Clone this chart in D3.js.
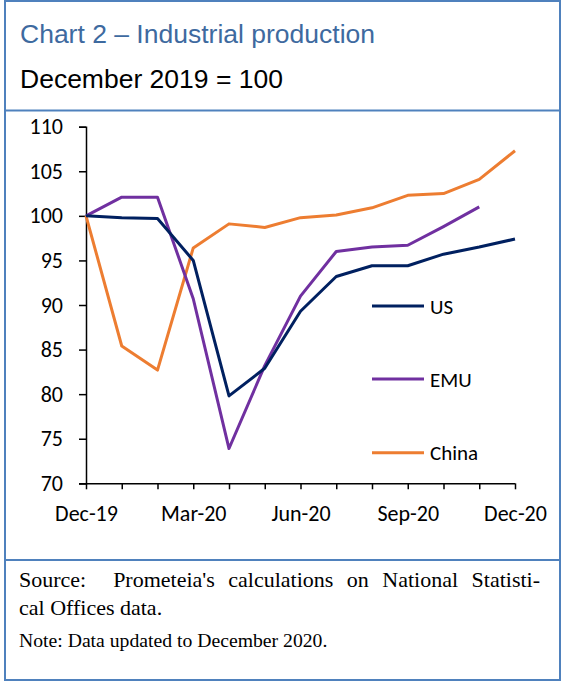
<!DOCTYPE html>
<html>
<head>
<meta charset="utf-8">
<script src="https://cdn.jsdelivr.net/npm/d3@7"></script>
<style>
body { margin: 0; background: #fff; }
svg { display: block; }
</style>
</head>
<body>
<div id="chart"></div>
<script>
var months = ['Dec-19', 'Jan-20', 'Feb-20', 'Mar-20', 'Apr-20', 'May-20', 'Jun-20',
	'Jul-20', 'Aug-20', 'Sep-20', 'Oct-20', 'Nov-20', 'Dec-20'];
var tickLabels = ['Dec-19', 'Mar-20', 'Jun-20', 'Sep-20', 'Dec-20'];
var yTicks = [70, 75, 80, 85, 90, 95, 100, 105, 110];

var usValues = [100, 99.8, 99.7, 95.0, 79.8, 82.9, 89.3, 93.2, 94.4, 94.4, 95.7, 96.5, 97.4];
var emuValues = [100, 102.1, 102.1, 90.7, 73.9, 83.2, 91.0, 96.0, 96.5, 96.7, 98.8, 101.0];
var chinaValues = [100, 85.4, 82.7, 96.4, 99.1, 98.7, 99.8, 100.1, 100.9, 102.3, 102.5, 104.1, 107.3];

var series = [
	{ name: 'US', values: usValues, color: '#002060' },
	{ name: 'EMU', values: emuValues, color: '#7030a0' },
	{ name: 'China', values: chinaValues, color: '#ed7d31' }
];

var W = 562, H = 682;
var svg = d3.select('#chart').append('svg').attr('width', W).attr('height', H);

// frame
var frame = '#4f81bd';
svg.append('rect').attr('x', 5).attr('y', 1).attr('width', 555).attr('height', 679)
	.attr('fill', 'none').attr('stroke', frame).attr('stroke-width', 2);
svg.append('line').attr('x1', 5).attr('x2', 560).attr('y1', 110.5).attr('y2', 110.5)
	.attr('stroke', frame).attr('stroke-width', 2);
svg.append('line').attr('x1', 5).attr('x2', 560).attr('y1', 560).attr('y2', 560)
	.attr('stroke', frame).attr('stroke-width', 2);

// header
svg.append('text').attr('x', 20).attr('y', 42.7)
	.style('font-family', 'Liberation Sans, Arial, sans-serif').style('font-size', '26.5px')
	.attr('fill', '#3e6a9f').text('Chart 2 \u2013 Industrial production');
svg.append('text').attr('x', 20).attr('y', 87.5)
	.style('font-family', 'Liberation Sans, Arial, sans-serif').style('font-size', '26.5px')
	.attr('fill', '#000').text('December 2019 = 100');

// plot
var x = d3.scalePoint().domain(months).range([86, 515]);
var y = d3.scaleLinear().domain([70, 110]).range([483.3, 126.7]);

var axisFont = 'Carlito, Lato, sans-serif';

var yAxis = svg.append('g').attr('transform', 'translate(86,0)')
	.call(d3.axisLeft(y).tickValues(yTicks).tickSize(7).tickPadding(16));
yAxis.select('.domain').attr('stroke', '#000').attr('stroke-width', 1.5);
yAxis.selectAll('.tick line').attr('stroke', '#000').attr('stroke-width', 1.5);
yAxis.selectAll('.tick text').style('font-family', axisFont).style('font-size', '22px').attr('fill', '#000');

var xAxis = svg.append('g').attr('transform', 'translate(0,483.3)')
	.call(d3.axisBottom(x).tickSize(6).tickSizeOuter(0).tickPadding(16)
		.tickFormat(function(d) { return tickLabels.indexOf(d) >= 0 ? d : ''; }));
xAxis.select('.domain').attr('stroke', '#000').attr('stroke-width', 1.5)
	.attr('d', 'M79,0.5H515');
xAxis.selectAll('.tick line').attr('stroke', '#000').attr('stroke-width', 1.5);
xAxis.selectAll('.tick text').style('font-family', axisFont).style('font-size', '22px').attr('fill', '#000');

var line = d3.line()
	.x(function(d, i) { return x(months[i]); })
	.y(function(d) { return y(d); });

// draw China first, then EMU, then US on top
[series[2], series[1], series[0]].forEach(function(s) {
	svg.append('path').datum(s.values)
		.attr('d', line)
		.attr('fill', 'none')
		.attr('stroke', s.color)
		.attr('stroke-width', 3)
		.attr('stroke-linejoin', 'round');
});

// legend
var legendY = [306, 379, 452.7];
series.forEach(function(s, i) {
	svg.append('line').attr('x1', 372).attr('x2', 424)
		.attr('y1', legendY[i]).attr('y2', legendY[i])
		.attr('stroke', s.color).attr('stroke-width', 3);
	svg.append('text').attr('x', 430).attr('y', legendY[i] + 7.5)
		.style('font-family', axisFont).style('font-size', '21px')
		.attr('fill', '#000').text(s.name);
});

// source (first line justified to the box width)
var serif = 'Liberation Serif, Times New Roman, serif';
var src = svg.append('text').attr('x', 19).attr('y', 586.7)
	.style('font-family', serif).style('font-size', '22px')
	.attr('fill', '#000').attr('xml:space', 'preserve')
	.text('Source:  Prometeia\'s calculations on National Statisti-');
var natural = src.node().getComputedTextLength();
var gaps = 6;
src.style('word-spacing', Math.max(0, (521 - natural) / gaps) + 'px');
svg.append('text').attr('x', 19).attr('y', 615)
	.style('font-family', serif).style('font-size', '22px')
	.attr('fill', '#000').text('cal Offices data.');
svg.append('text').attr('x', 19).attr('y', 647.3)
	.style('font-family', serif).style('font-size', '19.7px')
	.attr('fill', '#000').text('Note: Data updated to December 2020.');
</script>
</body>
</html>
